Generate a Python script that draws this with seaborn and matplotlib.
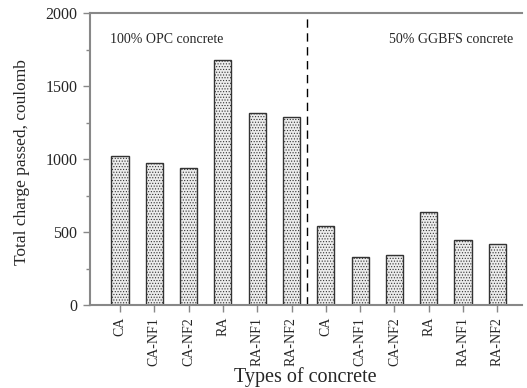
import matplotlib
matplotlib.use("Agg")
import matplotlib.pyplot as plt
import seaborn as sns
import pandas as pd
from matplotlib.ticker import MultipleLocator

sns.set_style("white")
plt.rcParams['font.family'] = ['Liberation Serif', 'DejaVu Serif']
plt.rcParams['hatch.color'] = '#888888'
plt.rcParams['hatch.linewidth'] = 0.5

labels = ["CA", "CA-NF1", "CA-NF2", "RA", "RA-NF1", "RA-NF2",
          "CA", "CA-NF1", "CA-NF2", "RA", "RA-NF1", "RA-NF2"]
groups = ["OPC"] * 6 + ["GGBFS"] * 6
charge = [1020, 975, 940, 1675, 1315, 1290, 540, 330, 340, 640, 445, 420]

keys = [f"{g}-{l}" for g, l in zip(groups, labels)]
df = pd.DataFrame({"key": keys, "charge": charge})

fig = plt.figure(figsize=(5.27, 3.88), dpi=100)
ax = fig.add_axes([90/527, 1 - 305/388, (522-90)/527, (305-13)/388])

sns.barplot(data=df, x="key", y="charge", order=keys, ax=ax, width=0.5,
            color="#ececec", edgecolor="#333333", linewidth=1.0, hatch="......",
            saturation=1)

ax.set_xlim(-0.875, 11.72)
ax.set_ylim(0, 2000)
ax.yaxis.set_major_locator(MultipleLocator(500))
ax.yaxis.set_minor_locator(MultipleLocator(250))
ax.set_xticks(range(len(labels)))
ax.set_xticklabels(labels, rotation=90, fontsize=10)
ax.tick_params(axis='y', labelsize=11.5, pad=4)
ax.tick_params(axis='both', which='major', direction='out', length=5, width=1, color='#888888', left=True, bottom=True)
ax.tick_params(axis='y', which='minor', direction='out', length=3, width=1, color='#888888', left=True)

for s in ["left", "bottom", "top"]:
    ax.spines[s].set_color('#888888')
    ax.spines[s].set_linewidth(1.5)
ax.spines["right"].set_visible(False)

ax.axvline(5.45, color='black', linestyle=(0, (6, 4)), linewidth=1)

ax.text(0.046, 0.908, "100% OPC concrete", transform=ax.transAxes, fontsize=10, va='center', ha='left')
ax.text(0.692, 0.908, "50% GGBFS concrete", transform=ax.transAxes, fontsize=10, va='center', ha='left')

ax.set_xlabel("Types of concrete", fontsize=14.5, va='center')
ax.xaxis.set_label_coords((305 - 90) / 432, (305 - 377) / 292)
ax.set_ylabel("Total charge passed, coulomb", fontsize=12.5, va='center')
ax.yaxis.set_label_coords((22 - 90) / 432, 0.49)

fig.savefig("out.png", dpi=100)
